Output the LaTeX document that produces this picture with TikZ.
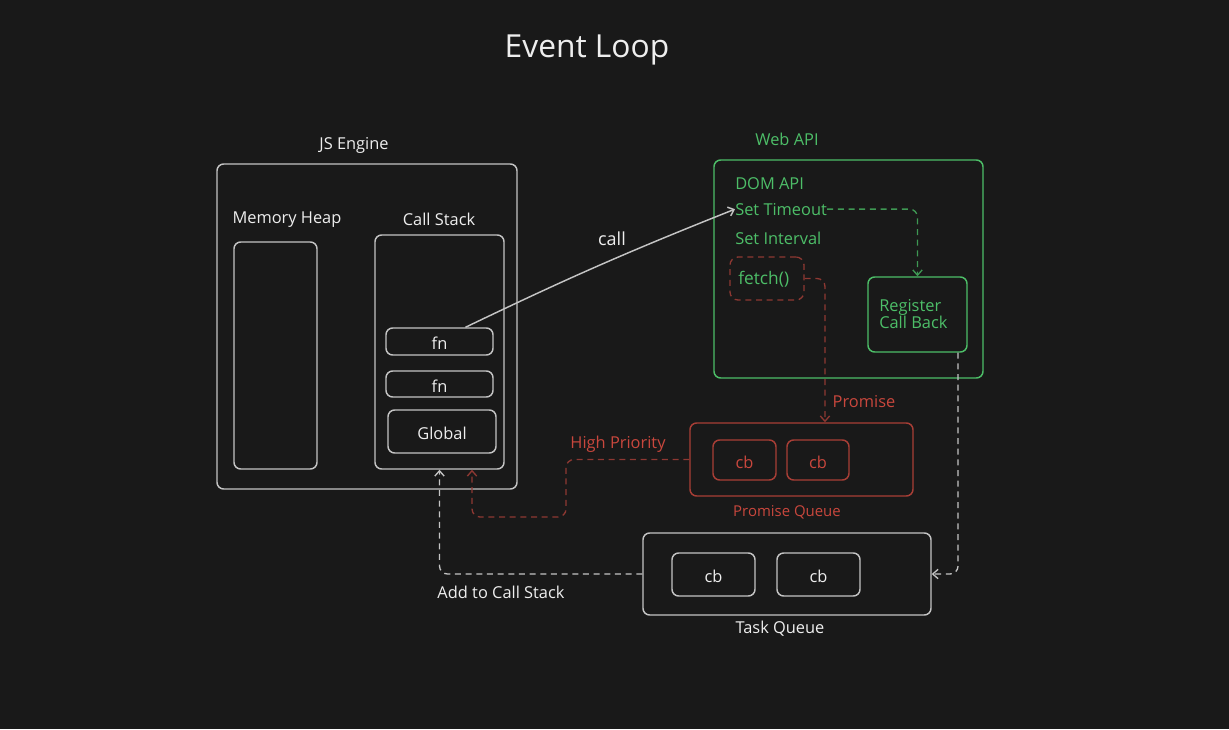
\documentclass[tikz,border=0pt]{standalone}
\usepackage{fontspec}
\setmainfont{Open Sans}
\usetikzlibrary{fit,arrows.meta}
\definecolor{bg}{HTML}{191919}
\definecolor{ln}{HTML}{C4C4C4}
\definecolor{tx}{HTML}{EEEEEE}
\definecolor{gr}{HTML}{4DBE68}
\definecolor{rd}{HTML}{C9473D}
\definecolor{rdb}{HTML}{A83E36}
\definecolor{rdl}{HTML}{8E3832}
\begin{document}
\begin{tikzpicture}[x=0.75pt,y=-0.75pt,
  box/.style={draw=ln, line width=1.1pt, rounded corners=5pt, inner sep=0pt},
  gbox/.style={box, draw=gr},
  rbox/.style={box, draw=rdb},
  lbl/.style={text=tx, inner sep=0pt, yshift=-1.6pt, font=\fontsize{12.3}{13}\selectfont},
  glbl/.style={lbl, text=gr},
  rlbl/.style={lbl, text=rd},
  tip/.style={-{Straight Barb[length=4pt,width=7pt]}},
  conn/.style={draw=ln, line width=1pt, dash pattern=on 4.5pt off 3.5pt, rounded corners=6pt, tip},
  gconn/.style={conn, draw=gr!80!black},
  rconn/.style={conn, draw=rdl}
]
\fill[bg] (0,0) rectangle (1229,729);
\useasboundingbox (0,0) rectangle (1229,729);

\node[lbl, font=\fontsize{23.8}{26}\selectfont] (title) at (587,48) {Event Loop};

% JS Engine
\node[lbl] (jsl) at (354,143) {JS Engine};
\node[box, fit={(217,164) (517,489)}] (js) {};
\node[lbl] (mhl) at (287,217) {Memory Heap};
\node[box, fit={(234,242) (317,469)}] (mh) {};
\node[lbl] (csl) at (439,217) {Call Stack};
\node[box, fit={(375,235) (504,469)}] (cs) {};
\node[box, fit={(386,328) (493,355)}] (fn1) {};
\node[lbl] at (fn1.center) {fn};
\node[box, fit={(386,371) (493,397)}] (fn2) {};
\node[lbl] at (fn2.center) {fn};
\node[box, fit={(388,410) (496,453)}] (glob) {};
\node[lbl] at (glob.center) {Global};

% Web API
\node[glbl] (wal) at (787,137) {Web API};
\node[gbox, fit={(714,160) (983,378)}] (wa) {};
\node[glbl, anchor=west] (dom) at (735,181) {DOM API};
\node[glbl, anchor=west] (st) at (735,207) {Set Timeout};
\node[glbl, anchor=west] (si) at (735,236) {Set Interval};
\node[draw=rdl, line width=1pt, dash pattern=on 4.5pt off 3.5pt, rounded corners=6pt, inner sep=0pt, fit={(730,257) (804,300)}] (fetch) {};
\node[glbl, anchor=west, font=\fontsize{13}{14}\selectfont] at (738,277) {fetch()};
\node[gbox, fit={(868,277) (967,352)}] (reg) {};
\node[glbl, anchor=north west, align=left, font=\fontsize{12.3}{12.6}\selectfont] (regt) at (879,297) {Register\\Call Back};

% call arrow
\node[lbl, font=\fontsize{13.5}{14}\selectfont] (calll) at (612,237) {call};
\draw[draw=ln, line width=1.1pt, tip] ([xshift=19.5pt]fn1.north) to[bend left=2] (st.west);

% Promise queue
\node[rbox, fit={(690,423) (913,496)}] (pq) {};
\node[rbox, fit={(713,440) (776,480)}] (pc1) {};
\node[rlbl] at (pc1.center) {cb};
\node[rbox, fit={(787,440) (849,480)}] (pc2) {};
\node[rlbl] at (pc2.center) {cb};
\node[rlbl, font=\fontsize{11.2}{12}\selectfont] (pql) at (787,510) {Promise Queue};

% Task queue
\node[box, fit={(643,533) (931,615)}] (tq) {};
\node[box, fit={(672,553) (755,596)}] (tc1) {};
\node[lbl] at (tc1.center) {cb};
\node[box, fit={(777,553) (860,596)}] (tc2) {};
\node[lbl] at (tc2.center) {cb};
\node[lbl] (tql) at (780,627) {Task Queue};

% connectors
\draw[gconn] (st.east) -| (reg.north);
\draw[rconn] (fetch.east) -| ([xshift=17.6pt]pq.north);
\node[rlbl] (prl) at (864,399) {Promise};
\draw[rconn] (pq.west) -| (566,517) -| ([xshift=24.4pt]cs.south);
\node[rlbl] (hpl) at (618,442) {High Priority};
\draw[conn] (tq.west) -| (cs.south);
\node[lbl] (acl) at (501,590) {Add to Call Stack};
\draw[conn] ([xshift=30.4pt]reg.south) |- (tq.east);
\end{tikzpicture}
\end{document}
